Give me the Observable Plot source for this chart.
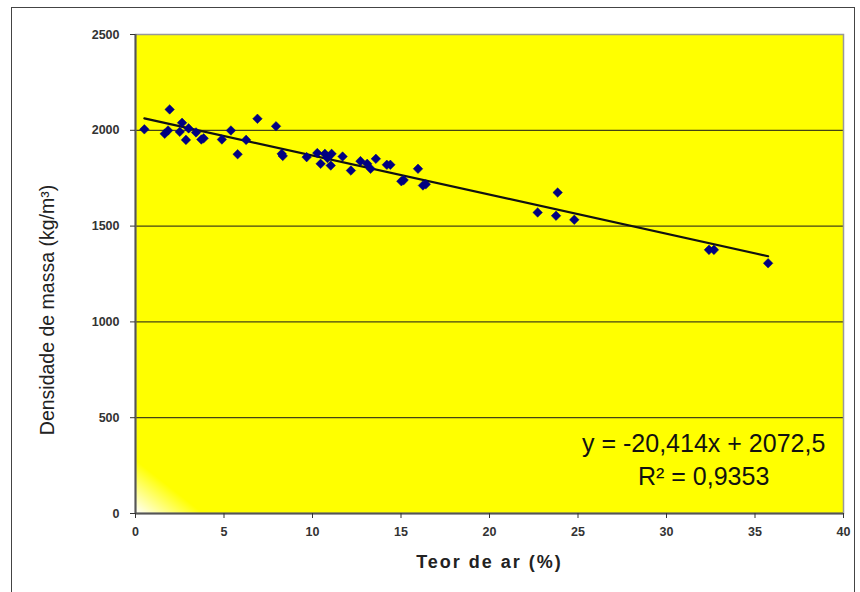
<!DOCTYPE html>
<html>
<head>
<meta charset="utf-8">
<script src="https://cdn.jsdelivr.net/npm/d3@7"></script>
<script src="https://cdn.jsdelivr.net/npm/@observablehq/plot@0.6"></script>
<style>
  html, body { margin: 0; padding: 0; background: #fff; }
  #wrap { position: relative; width: 860px; height: 592px; overflow: hidden; }
  #border { position: absolute; left: 11px; top: 7px; width: 844px; height: 620px; border: 1.5px solid #444; box-sizing: border-box; }
  #chart { position: absolute; left: 0; top: 0; }
</style>
</head>
<body>
<div id="wrap"><div id="border"></div><div id="chart"></div></div>
<script>
// Data
const airContent = [0.5, 1.65, 1.84, 1.93, 2.5, 2.63, 2.85, 3.0, 3.42, 3.72, 3.85, 4.88, 5.39, 5.77, 6.25, 6.89, 7.94, 8.26, 8.32, 9.67, 10.27, 10.46, 10.7, 10.84, 11.08, 11.03, 11.7, 12.17, 12.71, 13.09, 13.28, 13.58, 14.2, 14.4, 15.02, 15.15, 15.96, 16.24, 16.4, 22.72, 23.76, 23.85, 24.79, 32.4, 32.68, 35.74];
const density    = [2005, 1982, 1999, 2109, 1992, 2039, 1950, 2010, 1989, 1952, 1958, 1952, 1999, 1875, 1950, 2060, 2021, 1877, 1866, 1860, 1881, 1825, 1877, 1856, 1877, 1816, 1863, 1790, 1839, 1825, 1799, 1851, 1820, 1820, 1734, 1740, 1799, 1712, 1718, 1571, 1554, 1675, 1533, 1376, 1376, 1306];
const xTicks = [0, 5, 10, 15, 20, 25, 30, 35, 40];
const yTicks = [0, 500, 1000, 1500, 2000, 2500];
const gridValues = [500, 1000, 1500, 2000];
const slope = -20.414;
const intercept = 2072.5;
const eqLines = ["y = -20,414x + 2072,5", "R\u00B2 = 0,9353"];
const eqPos = [{x: 32.1, y: 365}, {x: 32.1, y: 190}];
const xLabel = "Teor de ar (%)";
const yLabel = "Densidade de massa (kg/m\u00B3)";

const points = airContent.map((x, i) => ({x, y: density[i]}));
const xMin = d3.min(airContent), xMax = d3.max(airContent);
const trend = [xMin, xMax].map(x => ({x, y: slope * x + intercept}));
const eqData = eqLines.map((t, i) => ({text: t, ...eqPos[i]}));

const plot = Plot.plot({
  width: 860,
  height: 592,
  marginLeft: 135,
  marginRight: 17,
  marginTop: 34,
  marginBottom: 79,
  style: {fontFamily: "'Liberation Sans', Arial, sans-serif", background: "transparent", overflow: "visible"},
  x: {domain: [0, 40]},
  y: {domain: [0, 2500]},
  marks: [
    Plot.frame({fill: "#ffff00", stroke: null}),
    Plot.ruleY(gridValues, {stroke: "#444414", strokeWidth: 1.3}),
    Plot.frame({stroke: "#999", strokeWidth: 1.5}),
    Plot.ruleX([0], {stroke: "#555", strokeWidth: 2}),
    Plot.ruleY([0], {stroke: "#555", strokeWidth: 2}),
    Plot.axisX({ticks: xTicks, tickFormat: d => String(d), tickSize: 5, tickPadding: 9, fontSize: 12.5, fontWeight: "bold", stroke: "#333", fill: "#333", label: null}),
    Plot.axisY({ticks: yTicks, tickFormat: d => String(d), tickSize: 5, tickPadding: 11, fontSize: 12.5, fontWeight: "bold", stroke: "#333", fill: "#333", label: null}),
    Plot.line(trend, {x: "x", y: "y", stroke: "#111", strokeWidth: 2.2}),
    Plot.dot(points, {x: "x", y: "y", symbol: "diamond2", r: 4.3, fill: "#000080", stroke: "#000080", strokeWidth: 0.5}),
    Plot.text(eqData, {x: "x", y: "y", text: "text", fontSize: 25, fill: "#111", textAnchor: "middle"}),
    Plot.text([xLabel], {frameAnchor: "bottom", textAnchor: "middle", dy: 54, fontSize: 18, fontWeight: "bold", fill: "#222", className: "xlab"}),
    Plot.text([yLabel], {frameAnchor: "left", textAnchor: "middle", dx: -88, dy: 36, rotate: -90, fontSize: 19.5, fill: "#222"})
  ]
});

// letter spacing of the x-axis title
plot.querySelectorAll(".xlab text").forEach(t => t.setAttribute("letter-spacing", "2"));

// bottom-left white-to-yellow corner fade (gradient fill of plot area)
const xs = plot.scale("x"), ys = plot.scale("y");
const cx = xs.apply(0), cy = ys.apply(0);
const ns = "http://www.w3.org/2000/svg";
const defs = document.createElementNS(ns, "defs");
const lg = document.createElementNS(ns, "linearGradient");
lg.setAttribute("id", "cornerFade");
lg.setAttribute("gradientUnits", "userSpaceOnUse");
lg.setAttribute("x1", cx); lg.setAttribute("y1", cy);
lg.setAttribute("x2", cx + 26); lg.setAttribute("y2", cy - 33);
[["0", "#ffffff"], ["1", "#ffff00"]].forEach(([o, c]) => {
  const s = document.createElementNS(ns, "stop");
  s.setAttribute("offset", o); s.setAttribute("stop-color", c);
  lg.appendChild(s);
});
defs.appendChild(lg);
plot.insertBefore(defs, plot.firstChild);
const firstFrame = plot.querySelector("[aria-label=frame] rect, rect[aria-label=frame]") || plot.querySelector("rect");
if (firstFrame) firstFrame.setAttribute("fill", "url(#cornerFade)");

document.getElementById("chart").appendChild(plot);
</script>
</body>
</html>
